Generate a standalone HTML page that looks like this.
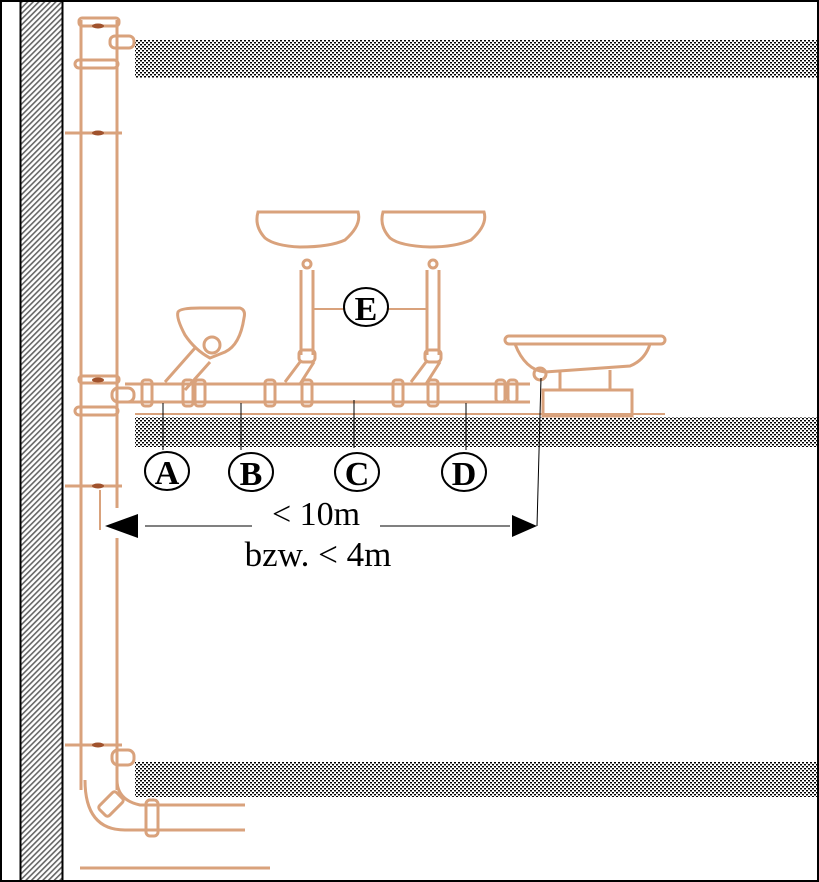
<!DOCTYPE html>
<html><head><meta charset="utf-8"><style>
html,body{margin:0;padding:0;background:#fff;}
svg{display:block;}
text{font-family:"Liberation Serif",serif;}
</style></head><body>
<svg width="819" height="882" viewBox="0 0 819 882" xmlns="http://www.w3.org/2000/svg">
<defs>
<pattern id="dots" width="4" height="4" patternUnits="userSpaceOnUse">
<rect width="4" height="4" fill="#fff"/><rect x="0" y="0" width="2" height="1.5" fill="#000"/><rect x="2" y="2" width="2" height="1.5" fill="#000"/>
</pattern>
<pattern id="hatch" width="4" height="4" patternUnits="userSpaceOnUse" patternTransform="rotate(45)">
<rect width="4" height="4" fill="#fff"/><rect width="1.6" height="4" fill="#666"/>
</pattern>
</defs>
<rect x="0" y="0" width="819" height="882" fill="#fff"/>
<rect x="20" y="0" width="43" height="882" fill="url(#hatch)"/>
<line x1="20.5" y1="0" x2="20.5" y2="882" stroke="#000" stroke-width="2"/>
<line x1="62.5" y1="0" x2="62.5" y2="882" stroke="#000" stroke-width="2"/>
<rect x="135" y="40" width="684" height="38" fill="url(#dots)"/>
<rect x="135" y="417" width="684" height="30" fill="url(#dots)"/>
<rect x="135" y="762" width="684" height="35" fill="url(#dots)"/>
<g fill="none" stroke="#d9a27c" stroke-width="3">
<line x1="81" y1="20" x2="81" y2="790"/>
<line x1="117" y1="20" x2="117" y2="790"/>
<rect x="79" y="18" width="40" height="8" rx="3"/>
<rect x="75" y="60" width="43" height="8" rx="4"/>
<rect x="110" y="36" width="24" height="12" rx="5"/>
<line x1="65" y1="133" x2="122" y2="133"/>
<rect x="79" y="376" width="40" height="7" rx="3"/>
<rect x="75" y="407" width="43" height="8" rx="4"/>
<rect x="112" y="388" width="22" height="14" rx="6"/>
<line x1="65" y1="486" x2="122" y2="486"/>
<line x1="65" y1="745" x2="122" y2="745"/>
<rect x="112" y="750" width="22" height="15" rx="6"/>
<path d="M85 780 Q85 830 125 830 L245 830"/>
<path d="M117 780 Q117 800 140 805 L245 805"/>
<rect x="104" y="792" width="14" height="24" transform="rotate(45 111 804)" rx="3"/>
<rect x="146" y="800" width="12" height="36" rx="4"/>
<line x1="80" y1="868" x2="270" y2="868"/>
<line x1="125" y1="384" x2="530" y2="384"/>
<line x1="125" y1="402" x2="530" y2="402"/>
<line x1="135" y1="414" x2="665" y2="414" stroke-width="2"/>
<rect x="142" y="380" width="10" height="26" rx="3"/>
<rect x="195" y="380" width="10" height="26" rx="3"/>
<rect x="183" y="380" width="10" height="26" rx="3"/>
<rect x="265" y="380" width="10" height="26" rx="3"/>
<rect x="302" y="380" width="10" height="26" rx="3"/>
<rect x="393" y="380" width="10" height="26" rx="3"/>
<rect x="428" y="380" width="10" height="26" rx="3"/>
<rect x="496" y="380" width="9" height="22" rx="3"/>
<rect x="508" y="380" width="9" height="22" rx="3"/>
<path d="M178 312 Q180 308 200 308 L240 308 Q246 310 244 318 Q240 345 225 352 L210 358 Q195 350 185 335 Q176 318 178 312 Z"/>
<circle cx="212" cy="345" r="8"/>
<path d="M165 382 L195 348 M185 390 L210 362"/>
<path d="M258 212 L358 212 Q362 225 345 240 Q330 247 300 247 Q275 246 265 238 Q254 226 258 212 Z"/>
<path d="M383 212 L484 212 Q488 225 471 240 Q455 247 430 247 Q400 246 390 238 Q379 226 383 212 Z"/>
<line x1="301" y1="270" x2="301" y2="355"/><line x1="313" y1="270" x2="313" y2="355"/>
<line x1="427" y1="270" x2="427" y2="355"/><line x1="439" y1="270" x2="439" y2="355"/>
<circle cx="307" cy="264" r="4"/><circle cx="433" cy="264" r="4"/>
<rect x="299" y="350" width="16" height="12" rx="4"/>
<rect x="425" y="350" width="16" height="12" rx="4"/>
<path d="M300 362 L285 382 M314 362 L300 384"/>
<path d="M426 362 L411 382 M440 362 L426 384"/>
<line x1="313" y1="309" x2="345" y2="309" stroke-width="2"/>
<line x1="387" y1="309" x2="427" y2="309" stroke-width="2"/>
<rect x="505" y="336" width="160" height="8" rx="4"/>
<path d="M515 344 Q525 370 545 372 L630 366 Q645 360 650 344"/>
<rect x="543" y="390" width="89" height="26"/>
<line x1="560" y1="372" x2="560" y2="390"/><line x1="610" y1="370" x2="610" y2="390"/>
<circle cx="540" cy="374" r="6"/>
</g>
<g fill="#a0522d">
<ellipse cx="98" cy="26" rx="6" ry="2.5"/><ellipse cx="98" cy="133" rx="6" ry="2.5"/>
<ellipse cx="98" cy="380" rx="6" ry="2.5"/><ellipse cx="98" cy="486" rx="6" ry="2.5"/>
<ellipse cx="98" cy="745" rx="6" ry="2.5"/>
</g>
<g stroke="#000" stroke-width="1">
<line x1="163" y1="403" x2="163" y2="450"/>
<line x1="241" y1="403" x2="241" y2="450"/>
<line x1="354" y1="400" x2="354" y2="448"/>
<line x1="466" y1="403" x2="466" y2="450"/>
<line x1="537" y1="526" x2="541" y2="378"/>
<line x1="145" y1="526" x2="252" y2="526"/>
<line x1="380" y1="526" x2="510" y2="526"/>
</g>
<line x1="100" y1="490" x2="100" y2="530" stroke="#d9a27c" stroke-width="2"/>
<rect x="102" y="508" width="32" height="30" fill="#fff"/>
<polygon points="105,526 138,514 138,538" fill="#000"/>
<polygon points="537,526 512,515 512,537" fill="#000"/>
<g fill="#fff" stroke="#000" stroke-width="2">
<ellipse cx="167" cy="471" rx="22" ry="19"/>
<ellipse cx="251" cy="472" rx="22" ry="19"/>
<ellipse cx="357" cy="472" rx="22" ry="19"/>
<ellipse cx="464" cy="472" rx="22" ry="19"/>
<ellipse cx="366" cy="307" rx="22" ry="19"/>
</g>
<g font-size="34" font-weight="bold" text-anchor="middle" fill="#000" style="font-family:'Liberation Serif',serif">
<text x="167" y="484">A</text>
<text x="251" y="485">B</text>
<text x="357" y="485">C</text>
<text x="464" y="485">D</text>
<text x="366" y="320">E</text>
</g>
<text x="316" y="525" font-size="34" text-anchor="middle">&lt; 10m</text>
<text x="318" y="566" font-size="35" text-anchor="middle">bzw. &lt; 4m</text>
<rect x="1" y="1" width="817" height="880" fill="none" stroke="#000" stroke-width="2"/>
</svg>
</body></html>
